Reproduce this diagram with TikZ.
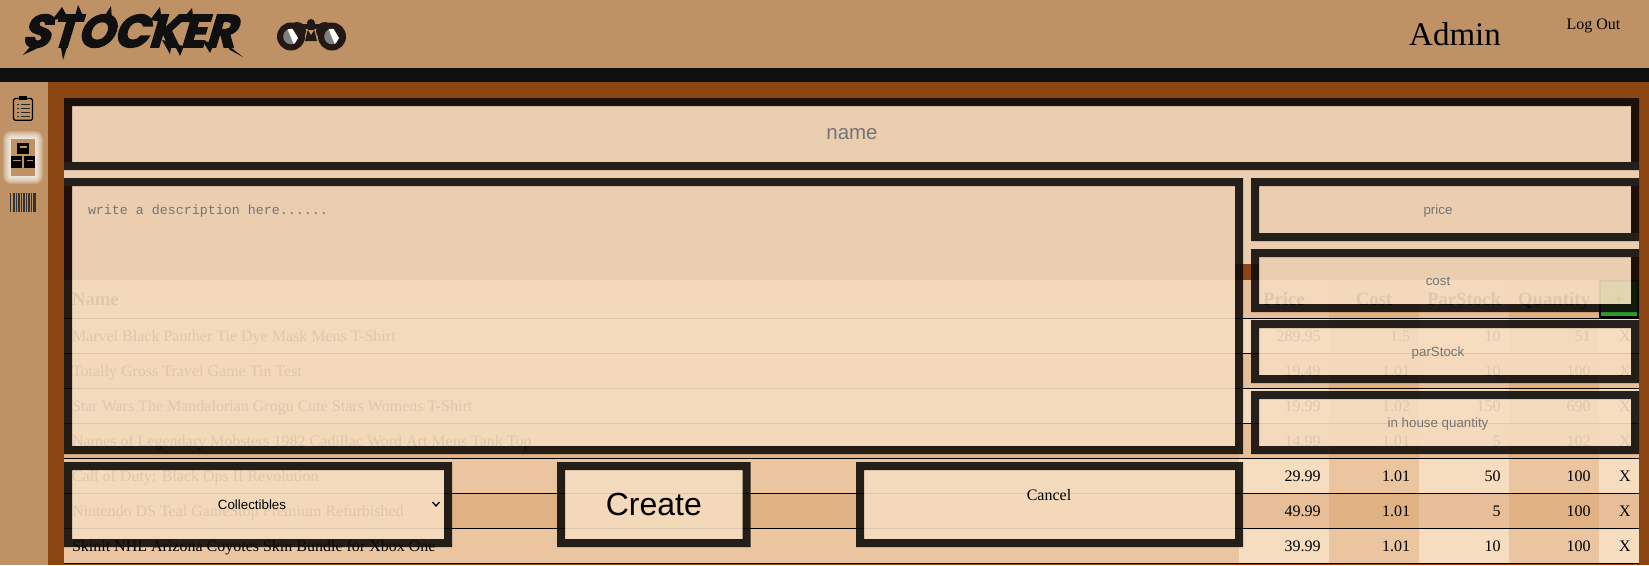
\documentclass[tikz,border=0pt]{standalone}
\usepackage{fontspec}
\setmainfont{Liberation Serif}
\setsansfont{Liberation Sans}
\setmonofont{Liberation Mono}
\newfontfamily\logofont[BoldFeatures={FakeBold=3}]{Poppins}
\definecolor{headtan}{HTML}{BE9265}
\definecolor{pagebrown}{HTML}{8B4513}
\definecolor{formcream}{HTML}{EBCEAF}
\definecolor{inputcream}{HTML}{F6DDC0}
\definecolor{inkdark}{HTML}{0F0C0A}
\definecolor{cellA}{HTML}{F6DDC0}
\definecolor{cellB}{HTML}{EBC4A0}
\definecolor{cellC}{HTML}{E8BE99}
\definecolor{cellD}{HTML}{E0B183}
\definecolor{holdergray}{HTML}{757575}
\definecolor{plusgreen}{HTML}{2D9B2D}
\definecolor{glasscolor}{HTML}{231815}
\definecolor{logoink}{HTML}{101010}
\tikzstyle{every node}=[inner sep=0pt,outer sep=0pt]
\tikzstyle{inputbox} = [rectangle,draw=inkdark,fill=inputcream,line width=8pt]
\tikzstyle{holder} = [anchor=base,font=\sffamily\fontsize{13.33}{16}\selectfont,text=holdergray]
\tikzstyle{rowname} = [anchor=base west,font=\fontsize{16}{19}\selectfont]
\tikzstyle{rowcell} = [anchor=base east,font=\fontsize{16}{19}\selectfont]
\tikzstyle{headcell} = [anchor=base,font=\bfseries\fontsize{18.72}{22}\selectfont]
\begin{document}
\begin{tikzpicture}[x=1pt,y=-1pt]
	\useasboundingbox (0,0) rectangle (1649,565);
	\fill[headtan] (0,0) rectangle (1649,68);
	\fill[logoink] (0,68) rectangle (1649,82);
	\fill[headtan] (0,82) rectangle (48,565);
	\fill[pagebrown] (48,82) rectangle (1649,565);
	\node[font=\logofont\bfseries\fontsize{46}{46}\selectfont,text=logoink,xslant=0.3,transform shape] (logo) at (133,31) {STOCKER};
	\foreach \ax/\ay/\bx/\by/\cx/\cy in {
		23/55/36/40/42/46, 63/60/60/42/68/44, 62/7/52/20/68/18, 78/5/74/20/84/18,
		111/6/102/20/112/20, 160/7/150/20/162/22, 192/8/180/22/194/22, 243/57/224/42/230/50,
		170/54/162/40/172/42, 210/53/202/40/214/44, 180/56/174/44/184/46}
	{\fill[logoink] (\ax,\ay) -- (\bx,\by) -- (\cx,\cy) -- cycle;}
	\fill[glasscolor] (297,31) circle (9);
	\fill[glasscolor] (325,31) circle (9);
	\fill[glasscolor] (311,23) circle (4);
	\fill[glasscolor] (302,24) -- (320,24) -- (320,28) -- (314,29) -- (317,41) -- (305,41) -- (308,29) -- (302,28) -- cycle;
	\fill[headtan] (308,30) -- (314,30) -- (311,35) -- cycle;
	\foreach \cx in {291,332}
	{
		\fill[glasscolor] (\cx,36.5) circle (14);
		\begin{scope}
			\clip (\cx,36.5) circle (7.8);
			\fill[gray] (\cx-9,28) -- (\cx-4,28) -- (\cx+3,45) -- (\cx-9,45) -- cycle;
			\fill[white] (\cx-4,28) -- (\cx+1,28) -- (\cx+7,38) -- (\cx+3,45) -- cycle;
		\end{scope}
	}
	\draw[black,line width=1.2pt,rounded corners=1.5pt] (13.5,98.5) rectangle (32.5,120.2);
	\fill[black] (18.5,96) rectangle (27,100);
	\foreach \y in {104,108,112,116}
	{
		\draw[black!85,line width=1pt] (21,\y) -- (30,\y);
		\draw[black!85,line width=1pt] (17,\y) -- (19,\y);
	}
	\foreach \g in {8,7,6,5,4,3,2,1}
	{\fill[white,opacity=0.17,rounded corners=\g pt] (11-\g,139-\g) rectangle (35+\g,176+\g);}
	\fill[headtan] (11,139) rectangle (35,176);
	\fill[black] (17,142.7) rectangle (29.3,154);
	\fill[black] (10.7,156) rectangle (22.3,167.7);
	\fill[black] (24,156) rectangle (35.3,167.7);
	\fill[headtan] (20,146) rectangle (26.7,147.7);
	\fill[headtan] (13,159.5) rectangle (20.5,161.2);
	\fill[headtan] (26.7,159.5) rectangle (33.3,161.2);
	\foreach \x/\w in {10.3/1,12.5/.6,14/.6,15.5/1.2,17.5/.6,19/.6,20.5/1,22.5/.6,24/1.2,26/.6,27.5/.6,29/1,31/.6,32.5/.6,34/1.6}
	{\fill[black!80] (\x,192.7) rectangle (\x+\w,211.7);}
	\node[anchor=base,font=\fontsize{33}{38}\selectfont] (admin) at (1455,45.7) {Admin};
	\node[anchor=base,font=\fontsize{16}{19}\selectfont] (logout) at (1593.5,29.3) {Log Out};
	\fill[formcream] (64,162) rectangle (1639,186);
	\fill[formcream] (1235,186) rectangle (1259,264);
	\fill[formcream] (1259,233) rectangle (1639,257);
	\fill[cellD] (64,280) rectangle (1639,318);
	\foreach \y/\a/\b in {318/cellB/cellA,353/cellD/cellC,388/cellB/cellA,423/cellD/cellC,458/cellB/cellA,493/cellD/cellC,528/cellB/cellA}
	{
		\fill[\a] (64,\y) rectangle (1639,\y+35.5);
		\fill[\b] (1239,\y) rectangle (1329,\y+35.5);
		\fill[\b] (1419,\y) rectangle (1509,\y+35.5);
		\fill[\b] (1599,\y) rectangle (1639,\y+35.5);
	}
	\fill[cellC] (1239,280) rectangle (1329,318);
	\fill[cellC] (1419,280) rectangle (1509,318);
	\foreach \y in {318.5,353.5,388.5,423.5,458.5,493.5,528.5,563.5}
	{\draw[black,line width=1pt] (64,\y) -- (1639,\y);}
	\node[headcell,anchor=base west] (hname) at (72,305) {Name};
	\node[headcell] (hprice) at (1284,305) {Price};
	\node[headcell] (hcost) at (1374,305) {Cost};
	\node[headcell] (hpar) at (1464,305) {ParStock};
	\node[headcell] (hqty) at (1554,305) {Quantity};
	\node[draw=black,fill=plusgreen,line width=2pt,minimum width=38pt,minimum height=36pt] (plus) at (1619,299) {};
	\node[anchor=base,font=\fontsize{18.72}{22}\selectfont] (plustext) at (1619,305) {+};
	\foreach \n/\y/\name/\p/\c/\s/\q in {
		1/341.3/Marvel Black Panther Tie Dye Mask Mens T-Shirt/289.95/1.5/10/51,
		2/376.3/Totally Gross Travel Game Tin Test/19.49/1.01/10/100,
		3/411.3/Star Wars The Mandalorian Grogu Cute Stars Womens T-Shirt/19.99/1.02/150/690,
		4/446.3/Names of Legendary Mobsters 1982 Cadillac Word Art Mens Tank Top/14.99/1.01/5/102,
		5/481.3/Call of Duty: Black Ops II Revolution/29.99/1.01/50/100,
		6/516.3/Nintendo DS Teal GameStop Premium Refurbished/49.99/1.01/5/100,
		7/551.3/Skinit NHL Arizona Coyotes Skin Bundle for Xbox One/39.99/1.01/10/100}
	{
		\node[rowname] (name\n) at (72,\y) {\name};
		\node[rowcell] (price\n) at (1320.5,\y) {\p};
		\node[rowcell] (cost\n) at (1410,\y) {\c};
		\node[rowcell] (par\n) at (1500.5,\y) {\s};
		\node[rowcell] (qty\n) at (1590.5,\y) {\q};
		\node[anchor=base,font=\fontsize{16}{19}\selectfont] (del\n) at (1625,\y) {X};
	}
	\begin{scope}[transparency group,opacity=0.9]
		\node[inputbox,minimum width=1567pt,minimum height=64pt] (namebox) at (851.5,134) {};
		\node[inputbox,minimum width=1171pt,minimum height=268pt] (descbox) at (653.5,316) {};
		\node[inputbox,minimum width=380pt,minimum height=55pt] (pricebox) at (1445,209.5) {};
		\node[inputbox,minimum width=380pt,minimum height=55pt] (costbox) at (1445,280.5) {};
		\node[inputbox,minimum width=380pt,minimum height=55pt] (parbox) at (1445,351.5) {};
		\node[inputbox,minimum width=380pt,minimum height=55pt] (qtybox) at (1445,422.5) {};
		\node[inputbox,minimum width=380pt,minimum height=77pt] (selectbox) at (258,504.5) {};
		\node[inputbox,minimum width=185.5pt,minimum height=77pt] (createbox) at (653.75,504.5) {};
		\node[inputbox,minimum width=379pt,minimum height=77pt] (cancelbox) at (1049.5,504.5) {};
	\end{scope}
	\node[anchor=base,font=\sffamily\fontsize{20.5}{24}\selectfont,text=holdergray] (nametext) at (852,139.5) {name};
	\node[anchor=base west,font=\ttfamily\fontsize{13.33}{16}\selectfont,text=holdergray] (desctext) at (88,214) {write a description here......};
	\node[holder] (pricetext) at (1438,214) {price};
	\node[holder] (costtext) at (1438,285) {cost};
	\node[holder] (partext) at (1438,356) {parStock};
	\node[holder] (qtytext) at (1438,427) {in house quantity};
	\node[anchor=base,font=\sffamily\fontsize{13.33}{16}\selectfont] (selecttext) at (252,509) {Collectibles};
	\draw[black,line width=1.3pt] (432.5,502) -- (436,506) -- (439.5,502);
	\node[anchor=base,font=\sffamily\fontsize{32}{38}\selectfont] (createtext) at (653.8,515) {Create};
	\node[anchor=base,font=\fontsize{16}{19}\selectfont] (canceltext) at (1049,500) {Cancel};
\end{tikzpicture}
\end{document}
